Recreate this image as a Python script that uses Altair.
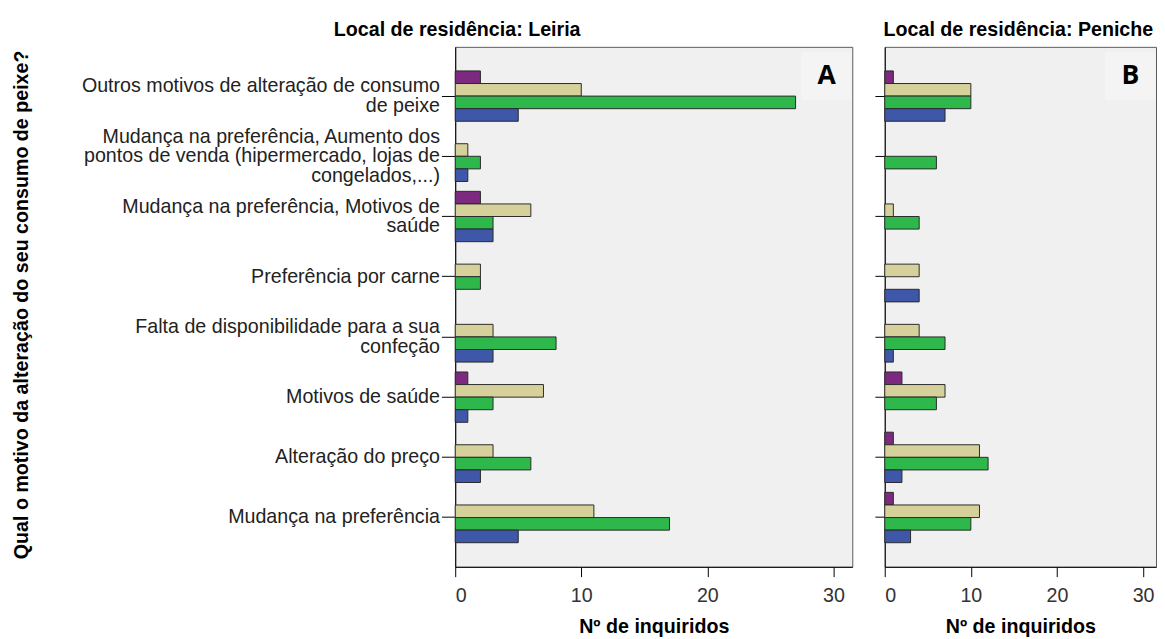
import altair as alt
import pandas as pd

categories = [
    "Outros motivos de alteração de consumo|de peixe",
    "Mudança na preferência, Aumento dos|pontos de venda (hipermercado, lojas de|congelados,...)",
    "Mudança na preferência, Motivos de|saúde",
    "Preferência por carne",
    "Falta de disponibilidade para a sua|confeção",
    "Motivos de saúde",
    "Alteração do preço",
    "Mudança na preferência",
]
series = ["Série 1", "Série 2", "Série 3", "Série 4"]
colors = ["#7b2a80", "#d6d19b", "#2eb84b", "#3e57a8"]

leiria_s1 = [2, 0, 2, 0, 0, 1, 0, 0]
leiria_s2 = [10, 1, 6, 2, 3, 7, 3, 11]
leiria_s3 = [27, 2, 3, 2, 8, 3, 6, 17]
leiria_s4 = [5, 1, 3, 0, 3, 1, 2, 5]

peniche_s1 = [1, 0, 0, 0, 0, 2, 1, 1]
peniche_s2 = [10, 0, 1, 4, 4, 7, 11, 11]
peniche_s3 = [10, 6, 4, 0, 7, 6, 12, 10]
peniche_s4 = [7, 0, 0, 4, 1, 0, 2, 3]

x_ticks = [0, 10, 20, 30]
panel_titles = ["Local de residência: Leiria", "Local de residência: Peniche"]
panel_letters = ["A", "B"]
y_title = "Qual o motivo da alteração do seu consumo de peixe?"
x_title = "Nº de inquiridos"

FONT = "Liberation Sans"
LH = 20

rows = []
for panel, arrs in [("Leiria", [leiria_s1, leiria_s2, leiria_s3, leiria_s4]),
                    ("Peniche", [peniche_s1, peniche_s2, peniche_s3, peniche_s4])]:
    for s, vals in zip(series, arrs):
        for c, v in zip(categories, vals):
            rows.append({"panel": panel, "cat": c, "serie": s, "n": v})
df = pd.DataFrame(rows)

H = 529


def make_panel(name, title, letter, width, first, dx):
    data = df[(df.panel == name) & (df.n > 0)]
    if first:
        yaxis = alt.Axis(
            labelExpr="split(datum.label, '|')",
            labelFont=FONT, labelFontSize=20, labelLineHeight=LH,
            labelColor="#222222", labelLimit=600, labelPadding=2,
            labelOffset={
                "condition": [
                    {"test": "length(split(datum.value, '|')) == 3", "value": -LH},
                    {"test": "length(split(datum.value, '|')) == 2", "value": -LH / 2},
                ],
                "value": 0,
            },
            tickSize=14, tickColor="#000000", domainColor="#000000",
            title=y_title, titleFont=FONT, titleFontSize=20,
            titleFontWeight="bold", titleColor="#000000",
            titleX=-441, titleY=262, titleAngle=270,
            titleAlign="center", titleBaseline="middle",
        )
    else:
        yaxis = alt.Axis(labels=False, title=None, tickSize=10,
                         tickColor="#000000", domainColor="#000000")
    bars = alt.Chart(data).mark_bar(stroke="#2a2a2a", strokeWidth=1).encode(
        x=alt.X("n:Q",
                scale=alt.Scale(domain=[0, 31.5], nice=False, zero=True),
                axis=alt.Axis(values=x_ticks, labelFont=FONT, labelFontSize=20,
                              labelColor="#333333", labelPadding=9, tickSize=10,
                              tickColor="#000000", domainColor="#000000",
                              title=x_title, titleFont=FONT, titleFontSize=20,
                              titleFontWeight="bold", titleColor="#000000",
                              titlePadding=12, grid=False)),
        y=alt.Y("cat:N", sort=categories,
                scale=alt.Scale(domain=categories, paddingInner=0.164, paddingOuter=0.40),
                axis=yaxis),
        yOffset=alt.YOffset("serie:N", sort=series,
                            scale=alt.Scale(domain=series, paddingInner=0, paddingOuter=0)),
        color=alt.Color("serie:N", scale=alt.Scale(domain=series, range=colors), legend=None),
    )
    ldf = pd.DataFrame({"t": [letter]})
    box = alt.Chart(ldf).mark_rect(color="#f4f4f4").encode(
        x=alt.value(width - 52), x2=alt.value(width - 1),
        y=alt.value(5), y2=alt.value(54),
    )
    txt = alt.Chart(ldf).mark_text(font="Open Sans", fontSize=27, fontWeight="bold",
                                   color="#000000", align="center", baseline="middle").encode(
        x=alt.value(width - 26), y=alt.value(30), text="t:N")
    return alt.layer(box, bars, txt).properties(
        width=width, height=H,
        title=alt.TitleParams(title, font=FONT, fontSize=20, fontWeight="bold",
                              color="#000000", anchor="middle", frame="group",
                              dx=dx, offset=-9, baseline="alphabetic"),
    )


pa = make_panel("Leiria", panel_titles[0], panel_letters[0], 404, True, -200)
pb = make_panel("Peniche", panel_titles[1], panel_letters[1], 276, False, -2)

chart = alt.hconcat(pa, pb, spacing=21).properties(
    padding={"left": 3, "top": 6, "right": 0, "bottom": 0}
).configure_view(fill="#f0f0f0", stroke="#5a5a5a", strokeWidth=1)

chart.save("out.html", embed_options={"renderer": "svg", "actions": False})
